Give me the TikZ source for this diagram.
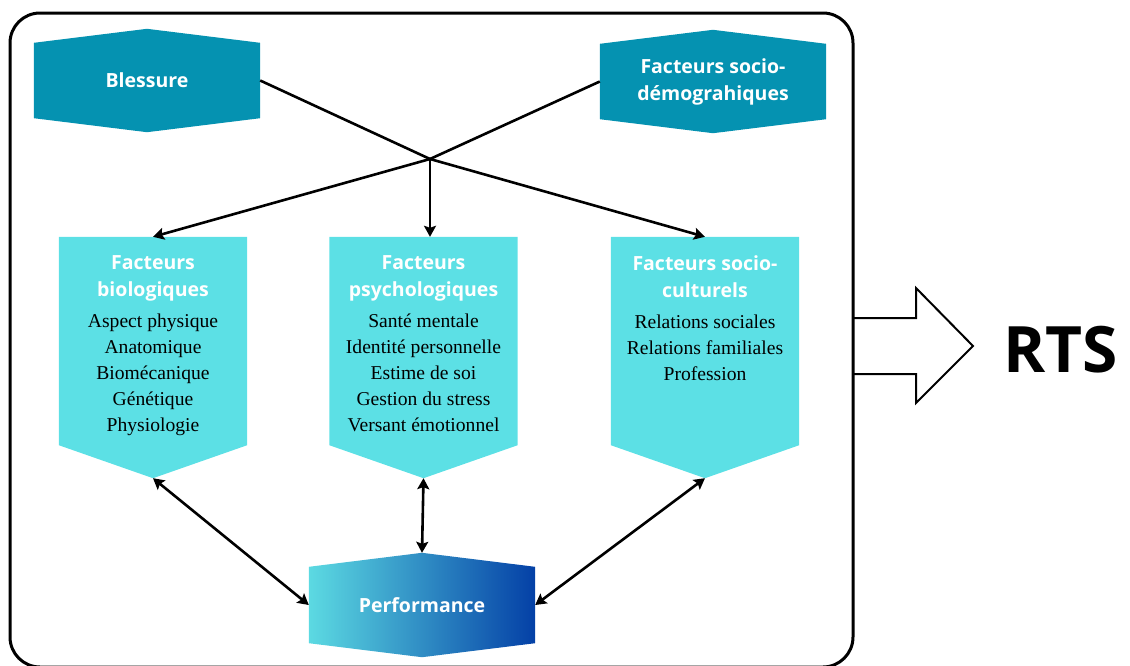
\documentclass[tikz,border=0pt]{standalone}
\usepackage{fontspec}
\setmainfont{Liberation Serif}
\setsansfont{Open Sans}
\usetikzlibrary{arrows.meta,backgrounds,calc}

\definecolor{hexteal}{HTML}{0592B1}
\definecolor{pentcyan}{HTML}{5CE0E5}
\definecolor{perfleft}{HTML}{5CDAE2}
\definecolor{perfright}{HTML}{0440A6}

\tikzset{
  headfont/.style={font=\sffamily\bfseries\fontsize{19.5}{27}\selectfont},
  hexbox/.style={headfont, text=white, align=center, inner sep=0pt,
    minimum width=226pt, minimum height=103pt},
  pentbox/.style={inner sep=0pt, minimum width=188pt, minimum height=241pt},
  titletext/.style={headfont, text=white, align=center, inner sep=0pt},
  listtext/.style={font=\rmfamily\fontsize{19.6}{26}\selectfont, text=black,
    align=center, inner sep=0pt},
  link/.style={line width=2.6pt, black, line join=round},
  tip/.style={-{Stealth[length=11pt,width=12pt,inset=2pt]}},
  tips/.style={{Stealth[length=11pt,width=12pt,inset=2pt]}-{Stealth[length=11pt,width=12pt,inset=2pt]}},
}

% flat hexagon with pointed top and bottom, drawn behind node #1
\newcommand{\hexfill}[3]{%
  \path[#2] (#1.north) -- ($(#1.north east)+(0,#3)$) -- ($(#1.south east)+(0,-#3)$)
    -- (#1.south) -- ($(#1.south west)+(0,-#3)$) -- ($(#1.north west)+(0,#3)$) -- cycle;}
% downward pointing pentagon behind node #1
\newcommand{\pentfill}[1]{%
  \fill[pentcyan] (#1.north west) -- (#1.north east) -- ($(#1.south east)+(0,-33)$)
    -- (#1.south) -- ($(#1.south west)+(0,-33)$) -- cycle;}

\begin{document}
\begin{tikzpicture}[x=1pt,y=-1pt]
\useasboundingbox (0,0) rectangle (1130,665);

% outer frame
\draw[line width=3pt, rounded corners=30pt] (10,13) rectangle (853,667);

% top factors
\node[hexbox] (bless) at (147,80.5) {Blessure};
\node[hexbox] (demo) at (713,81.5) {Facteurs socio-\\démograhiques};

% factor groups
\node[pentbox] (bio) at (153,357.5) {};
\node[pentbox] (psy) at (423.5,357.5) {};
\node[pentbox] (soc) at (705,357.5) {};

\node[titletext, anchor=north] (biot) at ($(bio.north)+(0,18.5)$) {Facteurs\\biologiques};
\node[listtext, anchor=north] (biol) at ($(bio.north)+(0,77)$)
  {Aspect physique\\Anatomique\\Biomécanique\\Génétique\\Physiologie};

\node[titletext, anchor=north] (psyt) at ($(psy.north)+(0,18.5)$) {Facteurs\\psychologiques};
\node[listtext, anchor=north] (psyl) at ($(psy.north)+(0,77)$)
  {Santé mentale\\Identité personnelle\\Estime de soi\\Gestion du stress\\Versant émotionnel};

\node[titletext, anchor=north] (soct) at ($(soc.north)+(0,18.5)$) {Facteurs socio-\\culturels};
\node[listtext, anchor=north] (socl) at ($(soc.north)+(0,78)$)
  {Relations sociales\\Relations familiales\\Profession};

% outcome
\node[hexbox, minimum height=104pt] (perf) at (422,605) {Performance};

\begin{scope}[on background layer]
  \hexfill{bless}{fill=hexteal}{14}
  \hexfill{demo}{fill=hexteal}{14}
  \pentfill{bio}
  \pentfill{psy}
  \pentfill{soc}
  \hexfill{perf}{left color=perfleft, right color=perfright}{14}
\end{scope}

% crossing connectors
\coordinate (hub) at (430,159);
\draw[link, tip] (bless.east) -- (hub) -- (soc.north);
\draw[link, tip] (demo.west) -- (hub) -- (bio.north);
\draw[link, tip] (hub) -- (hub |- psy.north);

% links to performance
\draw[link, tips] (bio.south) -- (perf.west);
\draw[link, tips] (psy.south) -- (perf.north);
\draw[link, tips] (soc.south) -- (perf.east);

% outlined block arrow leaving the frame
\draw[line width=2pt, line join=miter]
  (853,318) -- (916,318) -- (916,288) -- (973,346) -- (916,403) -- (916,374) -- (853,374);

\node[font=\sffamily\bfseries\fontsize{64}{64}\selectfont, anchor=base west, inner sep=0pt]
  (rts) at (1003,372) {RTS};
\end{tikzpicture}
\end{document}
